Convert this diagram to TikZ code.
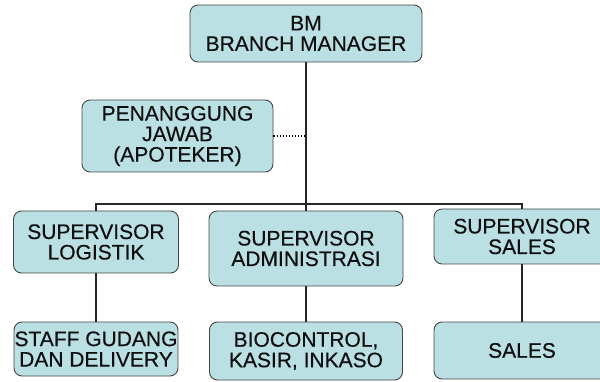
\documentclass[tikz,border=0pt]{standalone}
\usepackage{fontspec}
\setmainfont{Liberation Sans}[FakeBold=0.4]
\usepackage{tikz}
\usetikzlibrary{positioning,calc}
\definecolor{boxfill}{RGB}{186,224,227}
\definecolor{boxline}{RGB}{70,70,70}
\definecolor{boxtext}{RGB}{15,15,15}

\begin{document}
\begin{tikzpicture}[
    x=1pt,y=-1pt,
    box/.style={rectangle,draw=boxline,fill=boxfill,rounded corners=8pt,line width=0.9pt,
      align=center,inner sep=0pt,text=boxtext,font=\fontsize{21}{20.5}\selectfont},
    conn/.style={line width=1.3pt,draw=black!85},
    link/.style={dotted,line width=1.1pt}]
    \useasboundingbox (0,0) rectangle (600,382);
    \node[box,minimum width=232pt,minimum height=57pt] (bm) at (306,33.5) {BM\\BRANCH MANAGER};
    \node[box,minimum width=191pt,minimum height=72pt] (pj) at (177.5,136) {PENANGGUNG\\JAWAB\\(APOTEKER)};
    % supervisors
    \node[box,minimum width=165pt,minimum height=62pt] (sl) at (96,242) {SUPERVISOR\\LOGISTIK};
    \node[box,minimum width=194pt,minimum height=75pt] (sa) at (306,248.5) {SUPERVISOR\\ADMINISTRASI};
    \node[box,minimum width=176pt,minimum height=55pt] (ss) at (522,236.5) {SUPERVISOR\\SALES};
    % staff
    \node[box,minimum width=164pt,minimum height=54pt] (sg) at (96,349) {STAFF GUDANG\\DAN DELIVERY};
    \node[box,minimum width=193pt,minimum height=58pt] (bc) at (306,351) {BIOCONTROL,\\KASIR, INKASO};
    \node[box,minimum width=176pt,minimum height=57pt] (sx) at (522,350.5) {SALES};
    \coordinate (bar) at (306,204);
    \draw[conn] (bm.south) -- (sa.north);
    \draw[conn] (sl.north) |- (bar) -| (ss.north);
    \draw[link] (pj.east) -- (pj.east -| bm.south);
    \draw[conn] (sl.south) -- (sg.north);
    \draw[conn] (sa.south) -- (bc.north);
    \draw[conn] (ss.south) -- (sx.north);
\end{tikzpicture}
\end{document}
